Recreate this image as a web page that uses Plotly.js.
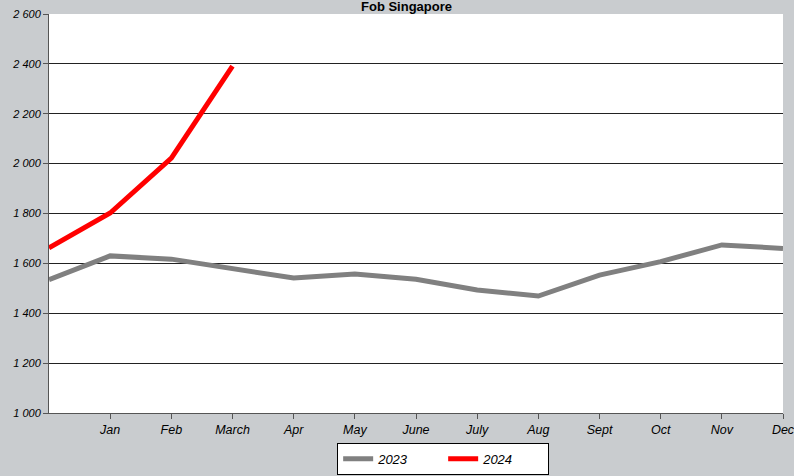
<!DOCTYPE html>
<html>
<head>
<meta charset="utf-8">
<script src="https://cdn.plot.ly/plotly-3.0.1.min.js"></script>
<style>html,body{margin:0;padding:0;background:#C9CCCF;}#chart{width:794px;height:476px;}</style>
</head>
<body>
<div id="chart"></div>
<script>
var positions = [0,1,2,3,4,5,6,7,8,9,10,11,12];
var monthLabels = ["Jan","Feb","March","Apr","May","June","July","Aug","Sept","Oct","Nov","Dec"];
var monthPositions = [1,2,3,4,5,6,7,8,9,10,11,12];
var values2023 = [1535,1630,1617,1577,1541,1557,1536,1493,1469,1553,1607,1674,1660];
var values2024 = [1662,1802,2022,2391];
var yTickVals = [1000,1200,1400,1600,1800,2000,2200,2400,2600];
var yTickText = ["1 000","1 200","1 400","1 600","1 800","2 000","2 200","2 400","2 600"];
var chartTitle = "Fob Singapore";

var traces = [
  {x: positions, y: values2023, name: "2023", type: "scatter", mode: "lines",
   line: {color: "#808080", width: 5}},
  {x: positions.slice(0, values2024.length), y: values2024, name: "2024", type: "scatter", mode: "lines",
   line: {color: "#FF0000", width: 5}}
];

var FONT = "Liberation Sans, Arial, sans-serif";

var layout = {
  width: 794, height: 476,
  paper_bgcolor: "#C9CCCF",
  plot_bgcolor: "#FFFFFF",
  margin: {l: 49, r: 11, t: 14, b: 63, autoexpand: false},
  font: {family: FONT, color: "#000"},
  annotations: [{text: "<b>" + chartTitle + "</b>", xref: "paper", yref: "paper",
                 x: 0.487, y: 1.018, xanchor: "center", yanchor: "middle",
                 showarrow: false, font: {size: 13, family: FONT, color: "#000"}}],
  xaxis: {range: [0, 12], tickmode: "array", tickvals: monthPositions, ticktext: monthLabels,
          showgrid: false, zeroline: false, showline: true, linecolor: "#555", linewidth: 1,
          ticks: "outside", ticklen: 5, tickcolor: "#555", ticklabeloverflow: "allow",
          tickfont: {size: 12.5, family: FONT, style: "italic"}},
  yaxis: {range: [1000, 2600], tickmode: "array", tickvals: yTickVals, ticktext: yTickText,
          showgrid: true, gridcolor: "#222", gridwidth: 1, zeroline: false,
          showline: true, linecolor: "#555", linewidth: 1,
          ticks: "outside", ticklen: 5, tickcolor: "#555",
          tickfont: {size: 11, family: FONT, style: "italic"}},
  showlegend: true,
  legend: {orientation: "h", x: 0.537, xanchor: "center", y: -0.075, yanchor: "top",
           bgcolor: "#FFFFFF", bordercolor: "#000", borderwidth: 1,
           font: {size: 13, style: "italic", family: FONT},
           itemwidth: 30, entrywidth: 60}
};

Plotly.newPlot("chart", traces, layout, {displayModeBar: false, staticPlot: true});
</script>
</body>
</html>
